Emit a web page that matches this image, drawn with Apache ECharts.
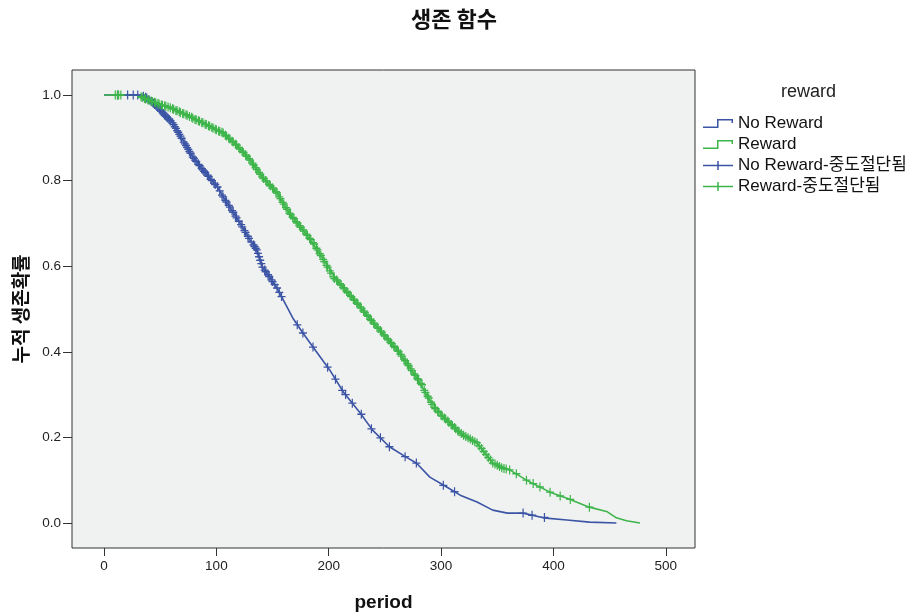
<!DOCTYPE html>
<html>
<head>
<meta charset="utf-8">
<script src="https://cdn.jsdelivr.net/npm/echarts@6/dist/echarts.min.js"></script>
<style>
html,body{margin:0;padding:0;background:#fff;}
#c{width:919px;height:615px;}
</style>
</head>
<body>
<div id="c"></div>
<script>
// ---- data ----
const xTicks = [0, 100, 200, 300, 400, 500];
const yTicks = [0, 0.2, 0.4, 0.6, 0.8, 1.0];

const seriesNames = ['No Reward', 'Reward', 'No Reward-중도절단됨', 'Reward-중도절단됨'];

// No Reward survival curve (time, cumulative survival)
const noRewardTime = [0, 32, 41, 50, 61, 70, 79, 88, 101, 106, 112, 121, 130, 136, 141, 154, 168, 177, 186, 201, 213, 228, 239, 254, 270, 278, 290, 305, 317, 332, 346, 359, 373, 391, 412, 432, 456];
const noRewardSurv = [1.0, 1.0, 0.988, 0.965, 0.935, 0.895, 0.855, 0.825, 0.785, 0.762, 0.738, 0.701, 0.661, 0.638, 0.598, 0.549, 0.479, 0.444, 0.411, 0.357, 0.306, 0.257, 0.217, 0.178, 0.152, 0.140, 0.107, 0.084, 0.065, 0.049, 0.030, 0.023, 0.023, 0.012, 0.007, 0.002, 0.0];

// Reward survival curve
const rewardTime = [0, 29, 35, 47, 59, 77, 92, 106, 118, 130, 141, 154, 165, 177, 190, 207, 225, 243, 261, 278, 290, 302, 317, 332, 346, 361, 376, 397, 412, 432, 448, 456, 465, 477];
const rewardSurv = [1.0, 1.0, 0.993, 0.981, 0.970, 0.949, 0.930, 0.911, 0.883, 0.848, 0.808, 0.771, 0.724, 0.685, 0.638, 0.568, 0.514, 0.458, 0.404, 0.341, 0.287, 0.248, 0.210, 0.187, 0.140, 0.124, 0.100, 0.072, 0.058, 0.037, 0.026, 0.012, 0.005, 0.0];

const noRewardCensored = [[12,1.0],[21,1.0],[26,1.0],[30,1.0],[35,0.997],[38,0.993],[42,0.985],[44,0.981],[46,0.976],[48,0.971],[51,0.962],[53,0.956],[55,0.951],[57,0.946],[59,0.940],[62,0.931],[64,0.922],[66,0.913],[68,0.904],[71,0.890],[73,0.882],[75,0.873],[77,0.864],[80,0.852],[82,0.845],[85,0.835],[88,0.825],[90,0.819],[93,0.810],[96,0.800],[99,0.791],[103,0.776],[106,0.762],[109,0.750],[112,0.738],[115,0.726],[118,0.713],[120,0.705],[123,0.692],[126,0.679],[129,0.665],[131,0.657],[133,0.650],[135,0.642],[137,0.630],[139,0.614],[141,0.598],[144,0.587],[147,0.576],[149,0.568],[152,0.557],[158,0.529],[172,0.463],[177,0.444],[186,0.411],[199,0.364],[206,0.336],[212,0.310],[215,0.300],[221,0.280],[229,0.254],[238,0.220],[246,0.199],[254,0.178],[268,0.155],[278,0.140],[302,0.088],[312,0.073],[373,0.023],[381,0.018],[392,0.013],
  [37,0.995],[40,0.989],[43,0.983],[45,0.978],[47,0.973],[50,0.965],[52,0.959],[54,0.953],[56,0.948],[58,0.943],[61,0.935],[63,0.926],[65,0.917],[67,0.908],[69,0.899],[72,0.886],[74,0.877],[76,0.868],[79,0.855],[81,0.848],[84,0.838],[87,0.828],[89,0.822],[92,0.813],[95,0.803],[98,0.794],[101,0.785],[105,0.766],[108,0.754],[111,0.742],[114,0.730],[117,0.717],[122,0.697],[125,0.683],[128,0.670],[134,0.646],[136,0.638],[138,0.622],[140,0.606],[143,0.591],[146,0.580],[150,0.564],[154,0.549],[156,0.539]];

const rewardCensored = [[10,1.0],[12,1.0],[13,1.0],[15,1.0],[33,0.996],[36,0.992],[39,0.989],[42,0.986],[45,0.983],[48,0.980],[51,0.977],[54,0.975],[57,0.972],[61,0.968],[64,0.964],[67,0.961],[70,0.957],[73,0.954],[76,0.950],[79,0.946],[82,0.942],[85,0.939],[88,0.935],[91,0.931],[94,0.927],[97,0.923],[100,0.919],[103,0.915],[106,0.911],[109,0.904],[112,0.897],[115,0.890],[118,0.883],[121,0.874],[124,0.866],[127,0.857],[130,0.848],[133,0.837],[136,0.826],[139,0.815],[142,0.805],[145,0.797],[148,0.788],[151,0.780],[154,0.771],[157,0.758],[160,0.745],[163,0.733],[166,0.721],[169,0.711],[172,0.701],[175,0.691],[178,0.682],[181,0.672],[184,0.662],[187,0.652],[190,0.638],[193,0.625],[196,0.611],[199,0.598],[202,0.584],[205,0.571],[208,0.565],[211,0.556],[214,0.547],[217,0.538],[220,0.529],[223,0.520],[226,0.511],[229,0.502],[232,0.492],[235,0.483],[238,0.473],[241,0.464],[244,0.455],[247,0.446],[250,0.437],[253,0.428],[256,0.419],[259,0.410],[262,0.401],[265,0.390],[268,0.379],[271,0.368],[274,0.356],[277,0.345],[280,0.334],[283,0.323],[286,0.305],[289,0.292],[292,0.277],[295,0.267],[298,0.258],[301,0.250],[304,0.243],[307,0.235],[310,0.228],[313,0.220],[316,0.213],[320,0.205],[324,0.199],[328,0.193],[332,0.187],[336,0.174],[340,0.160],[344,0.147],[348,0.138],[352,0.132],[356,0.127],[361,0.124],[367,0.115],[376,0.100],[382,0.092],[388,0.084],[397,0.072],[406,0.063],[415,0.055],[432,0.037],
  [34,0.994],[37,0.991],[40,0.988],[43,0.985],[46,0.982],[49,0.979],[52,0.976],[55,0.974],[59,0.970],[62,0.967],[65,0.963],[68,0.959],[71,0.956],[74,0.953],[78,0.948],[81,0.943],[84,0.940],[87,0.936],[90,0.932],[93,0.928],[96,0.924],[99,0.920],[102,0.916],[105,0.913],[108,0.906],[111,0.899],[114,0.892],[117,0.885],[120,0.877],[123,0.869],[126,0.860],[129,0.851],[132,0.841],[135,0.830],[138,0.819],[141,0.808],[144,0.800],[147,0.791],[150,0.783],[153,0.774],[156,0.762],[159,0.749],[162,0.737],[165,0.724],[168,0.714],[171,0.704],[174,0.695],[177,0.685],[180,0.675],[183,0.665],[186,0.655],[189,0.642],[192,0.629],[195,0.616],[198,0.602],[201,0.589],[204,0.575],[207,0.568],[210,0.559],[213,0.550],[216,0.541],[219,0.532],[222,0.523],[225,0.514],[228,0.505],[231,0.495],[234,0.486],[237,0.476],[240,0.467],[243,0.458],[246,0.449],[249,0.440],[252,0.431],[255,0.422],[258,0.413],[261,0.404],[264,0.394],[267,0.383],[270,0.372],[273,0.360],[276,0.348],[279,0.337],[282,0.326],[285,0.310],[288,0.296],[291,0.282],[294,0.270],[297,0.261],[300,0.252],[303,0.245],[306,0.238],[309,0.230],[312,0.223],[315,0.215],[318,0.209],[322,0.202],[326,0.196],[330,0.190],[334,0.180],[338,0.167],[342,0.153],[346,0.140],[350,0.135],[354,0.129],[358,0.126]];

// ---- chart ----
const BLUE = '#3B54A5';
const GREEN = '#3DB54A';
const FONT = "'Liberation Sans', Arial, 'Noto Sans CJK KR', sans-serif";
const KFONT = "'Noto Sans CJK KR', 'Liberation Sans', sans-serif";
const PLUS = 'path://M0,4.25h10v1.5h-10z M4.25,0h1.5v10h-1.5z';
const STEP_ICON = 'path://M0,7.5h15v1.5h-15z M14,0h1.5v9h-1.5z M14,0h16v1.5h-16z M28.5,0h1.5v4h-1.5z';
const PLUS_ICON = 'path://M0,3.75h30v1.5h-30z M14.25,0h1.5v9h-1.5z';

const zip = (a, b) => a.map((v, i) => [v, b[i]]);

const chart = echarts.init(document.getElementById('c'), null, {renderer: 'canvas'});
chart.setOption({
  animation: false,
  backgroundColor: '#ffffff',
  title: [
    {text: '생존 함수', left: 406, top: 3,
     textStyle: {fontFamily: KFONT, fontSize: 22, fontWeight: 'bold', color: '#111'}},
    {text: 'reward', left: 781, top: 83, padding: 0,
     textStyle: {fontFamily: FONT, fontSize: 18, fontWeight: 'normal', color: '#222'}}
  ],
  legend: {
    orient: 'vertical', left: 703, top: 115, padding: 0,
    itemWidth: 30, itemHeight: 9, itemGap: 4, itemSymbolGap: 4,
    textStyle: {fontFamily: FONT, fontSize: 17, color: '#111', lineHeight: 17},
    data: [
      {name: seriesNames[0], icon: STEP_ICON},
      {name: seriesNames[1], icon: STEP_ICON},
      {name: seriesNames[2], icon: PLUS_ICON},
      {name: seriesNames[3], icon: PLUS_ICON}
    ],
    symbolKeepAspect: false
  },
  grid: {left: 72, top: 70, width: 623, height: 478, show: true, outerBoundsMode: 'none', containLabel: false,
         backgroundColor: '#F0F1F1', borderColor: '#333', borderWidth: 1},
  xAxis: {
    type: 'value', min: -28.5, max: 526,
    name: 'period', nameLocation: 'middle', nameGap: 45,
    nameTextStyle: {fontFamily: FONT, fontSize: 19, fontWeight: 'bold', color: '#111'},
    axisLine: {show: false, onZero: false},
    splitLine: {show: false},
    axisTick: {show: true, inside: false, length: 8, customValues: xTicks, lineStyle: {color: '#333'}},
    axisLabel: {customValues: xTicks, margin: 12, fontFamily: FONT, fontSize: 13.5, color: '#222'}
  },
  yAxis: {
    type: 'value', min: -0.0585, max: 1.0585,
    name: '누적 생존확률', nameLocation: 'middle', nameGap: 42, nameRotate: 90,
    nameTextStyle: {fontFamily: KFONT, fontSize: 19, fontWeight: 'bold', color: '#111'},
    axisLine: {show: false, onZero: false},
    splitLine: {show: false},
    axisTick: {show: true, inside: false, length: 9, customValues: yTicks, lineStyle: {color: '#333'}},
    axisLabel: {customValues: yTicks, margin: 11, fontFamily: FONT, fontSize: 13.5, color: '#222',
                formatter: v => v.toFixed(1)}
  },
  series: [
    {name: seriesNames[0], type: 'line', data: zip(noRewardTime, noRewardSurv),
     showSymbol: false, symbol: 'none', color: BLUE, lineStyle: {width: 1.6, color: BLUE}, z: 2},
    {name: seriesNames[1], type: 'line', data: zip(rewardTime, rewardSurv),
     showSymbol: false, symbol: 'none', color: GREEN, lineStyle: {width: 1.6, color: GREEN}, z: 2},
    {name: seriesNames[2], type: 'scatter', data: noRewardCensored,
     symbol: PLUS, symbolSize: [8, 9], color: BLUE, itemStyle: {color: BLUE, opacity: 1}, z: 3},
    {name: seriesNames[3], type: 'scatter', data: rewardCensored,
     symbol: PLUS, symbolSize: [8, 9], color: GREEN, itemStyle: {color: GREEN, opacity: 1}, z: 3}
  ]
});
</script>
</body>
</html>
